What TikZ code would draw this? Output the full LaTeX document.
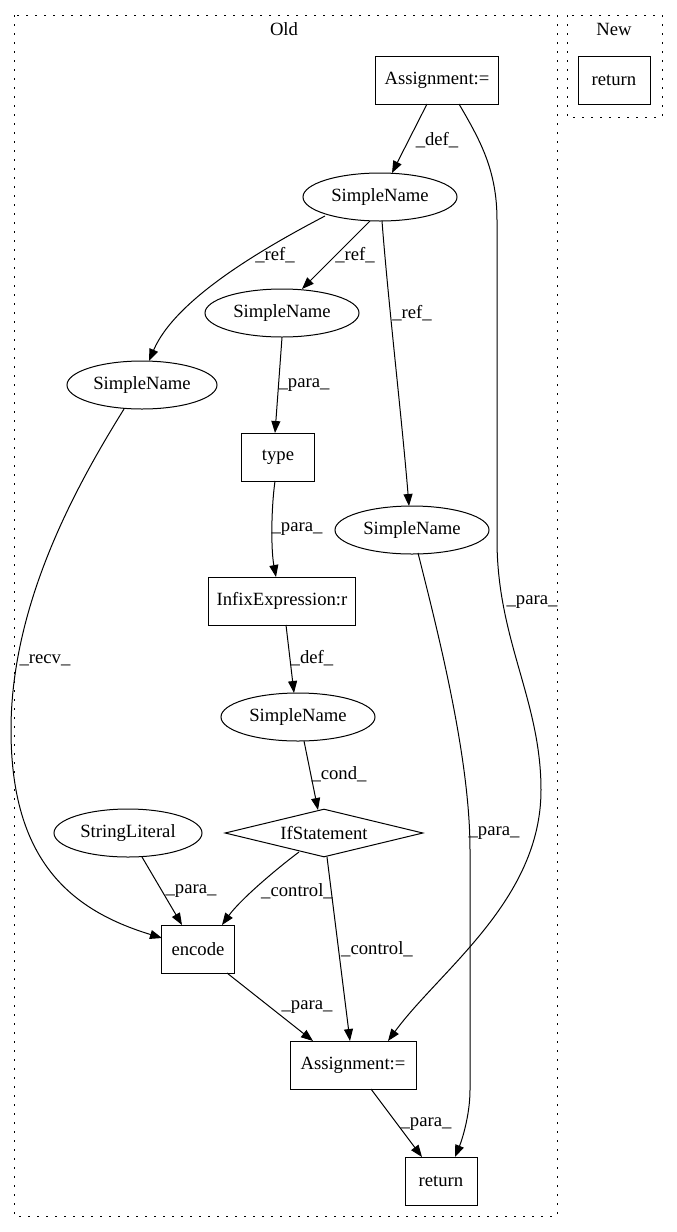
\documentclass[tikz,border=0pt]{standalone}
\usepackage{fontspec}
\setmainfont{Liberation Serif}
\usetikzlibrary{arrows.meta,shapes.geometric}
\begin{document}
\begin{tikzpicture}[x=1pt,y=-1pt,
  every node/.style={font=\fontsize{18.67}{22}\selectfont, inner sep=0pt},
  box/.style={draw, line width=1pt, minimum height=48pt},
  ell/.style={draw, ellipse, line width=1pt, minimum width=154pt, minimum height=48pt},
  dia/.style={draw, diamond, aspect=4, line width=1pt, minimum width=198pt, minimum height=48pt},
  clus/.style={draw, dash pattern=on 2pt off 7pt, line width=1pt},
  arr/.style={-{Triangle[length=12pt,width=9pt]}, line width=1pt}
]
\useasboundingbox (0,0) rectangle (677,1232);
% clusters
\draw[clus] (14,15) rectangle (557,1216);
\node (oldt) at (284,29) {Old};
\draw[clus] (567,15) rectangle (662,117);
\node (newt) at (614,29) {New};
% nodes
\node[box, minimum width=123pt] (a1) at (437,80) {Assignment:=};
\node[box, minimum width=72pt] (nret) at (614,80) {return};
\node[ell] (sn1) at (380,197) {SimpleName};
\node[ell] (sn2) at (282,313) {SimpleName};
\node[ell, minimum width=150pt] (sn3) at (142,385) {SimpleName};
\node[box, minimum width=73pt] (type) at (278,457) {type};
\node[ell] (sn4) at (412,530) {SimpleName};
\node[box, minimum width=147pt] (infix) at (282,601) {InfixExpression:r};
\node[ell] (sn5) at (298,717) {SimpleName};
\node[dia] (ifs) at (324,833) {IfStatement};
\node[ell, minimum width=148pt] (str) at (128,833) {StringLiteral};
\node[box, minimum width=73pt] (enc) at (198,949) {encode};
\node[box, minimum width=126pt] (a2) at (353,1065) {Assignment:=};
\node[box, minimum width=72pt] (ret) at (441,1181) {return};
% edges
\draw[arr] ([shift={(-10,24)}]a1.center) -- ([shift={(12,-24)}]sn1.center);
\node (l1) at (437,140) {\_def\_};
\draw[arr] ([shift={(22,24)}]a1.center) .. controls (480,140) and (497,170) .. (497,220) -- (497,540)
   .. controls (497,640) and (541,700) .. (541,790) .. controls (541,900) and (440,970) .. ([shift={(35,-24)}]a2.center);
\node (l2) at (532,602) {\_para\_};
\draw[arr] ([shift={(-55,19)}]sn1.center) .. controls (260,250) and (175,300) .. ([shift={(7,-24)}]sn3.center);
\node (l3) at (275,255) {\_ref\_};
\draw[arr] ([shift={(-10,24)}]sn1.center) -- ([shift={(20,-24)}]sn2.center);
\node (l4) at (355,255) {\_ref\_};
\draw[arr] ([shift={(2,24)}]sn1.center) .. controls (388,300) and (402,420) .. ([shift={(-3,-24)}]sn4.center);
\node (l5) at (412,313) {\_ref\_};
\draw[arr] (sn2.south) -- ([shift={(-3,-24)}]type.center);
\node (l6) at (304,385) {\_para\_};
\draw[arr] ([shift={(-3,24)}]type.center) .. controls (271,510) and (271,550) .. ([shift={(-6,-24)}]infix.center);
\node (l7) at (297,529) {\_para\_};
\draw[arr] ([shift={(4,24)}]infix.center) -- ([shift={(-4,-24)}]sn5.center);
\node (l8) at (312,658) {\_def\_};
\draw[arr] ([shift={(6,24)}]sn5.center) -- ([shift={(-6,-23)}]ifs.center);
\node (l9) at (339,774) {\_cond\_};
\draw[arr] ([shift={(-18,24)}]sn3.center) .. controls (80,480) and (11,600) .. (11,730)
   .. controls (11,860) and (70,910) .. ([shift={(-36,-11)}]enc.center);
\node (l10) at (45,660) {\_recv\_};
\draw[arr] ([shift={(14,24)}]str.center) -- ([shift={(-16,-24)}]enc.center);
\node (l11) at (191,891) {\_para\_};
\draw[arr] ([shift={(-25,19)}]ifs.center) .. controls (275,870) and (240,900) .. ([shift={(24,-24)}]enc.center);
\node (l12) at (297,891) {\_control\_};
\draw[arr] ([shift={(3,24)}]ifs.center) -- ([shift={(-3,-24)}]a2.center);
\node (l13) at (377,949) {\_control\_};
\draw[arr] ([shift={(6,23)}]sn4.center) .. controls (440,640) and (470,760) .. (470,850) -- (470,1090)
   .. controls (470,1115) and (462,1140) .. ([shift={(14,-24)}]ret.center);
\node (l14) at (494,833) {\_para\_};
\draw[arr] ([shift={(29,24)}]enc.center) -- ([shift={(-40,-24)}]a2.center);
\node (l15) at (307,1007) {\_para\_};
\draw[arr] ([shift={(18,24)}]a2.center) -- ([shift={(-19,-24)}]ret.center);
\node (l16) at (426,1124) {\_para\_};
\end{tikzpicture}
\end{document}
